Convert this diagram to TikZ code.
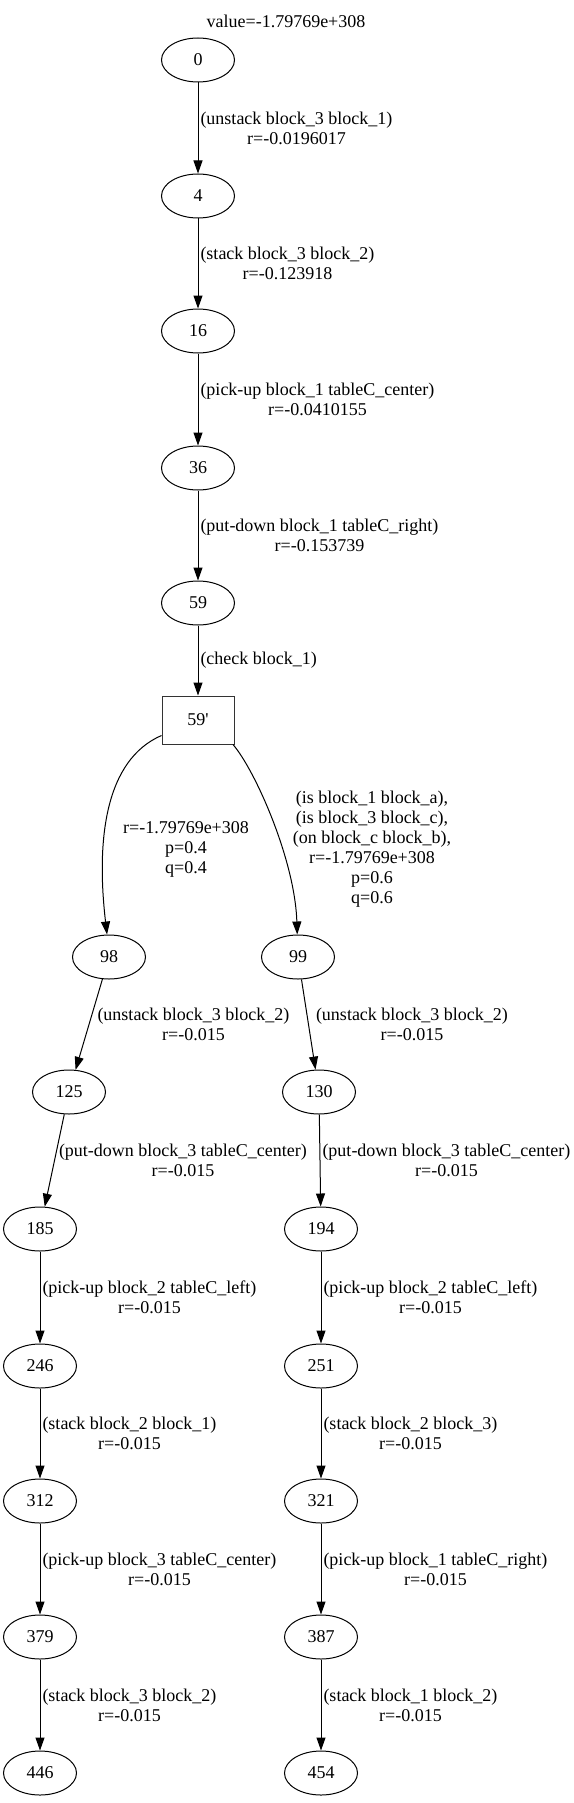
\documentclass[tikz,border=0pt]{standalone}
\usepackage{fontspec}
\setmainfont{Liberation Serif}
\usepackage{tikz}
\usetikzlibrary{arrows.meta, positioning, shapes.geometric}

\tikzset{
    every node/.style={font=\fontsize{18}{20}\selectfont},
    state/.style={draw, ellipse, line width=1pt, minimum width=73pt, minimum height=44pt, inner sep=0pt},
    chance/.style={draw=black!80, rectangle, line width=1pt, minimum width=72pt, minimum height=48pt, inner sep=0pt},
    edge/.style={line width=1pt, -{Triangle[length=13pt, width=9pt]}},
    lbl/.style={anchor=west, align=center, inner sep=0pt, xshift=2pt},
}

\begin{document}
\begin{tikzpicture}[x=1pt, y=1pt]
    \useasboundingbox (0,0) rectangle (573,-1803);

    % 标题
    \node (title) at (286,-21) {value=-1.79769e+308};

    % 主干
    \node[state] (n0) at (198,-60) {0};
    \node[state] (n4) at (198,-196) {4};
    \node[state] (n16) at (198,-331) {16};
    \node[state] (n36) at (198,-468) {36};
    \node[state] (n59) at (198,-603) {59};
    \node[chance] (c59p) at (198,-720) {59\textquotesingle};

    % 左支
    \node[state] (n98) at (109,-957) {98};
    \node[state] (n125) at (69,-1092) {125};
    \node[state] (n185) at (40,-1229) {185};
    \node[state] (n246) at (40,-1366) {246};
    \node[state] (n312) at (40,-1501) {312};
    \node[state] (n379) at (40,-1637) {379};
    \node[state] (n446) at (40,-1773) {446};

    % 右支
    \node[state] (n99) at (298,-957) {99};
    \node[state] (n130) at (319,-1092) {130};
    \node[state] (n194) at (321,-1229) {194};
    \node[state] (n251) at (321,-1366) {251};
    \node[state] (n321) at (321,-1501) {321};
    \node[state] (n387) at (321,-1637) {387};
    \node[state] (n454) at (321,-1773) {454};

    % 主干的边
    \draw[edge] (n0) -- node[lbl] (l0) {(unstack block\_3 block\_1)\\r=-0.0196017} (n4);
    \draw[edge] (n4) -- node[lbl] (l4) {(stack block\_3 block\_2)\\r=-0.123918} (n16);
    \draw[edge] (n16) -- node[lbl] (l16) {(pick-up block\_1 tableC\_center)\\r=-0.0410155} (n36);
    \draw[edge] (n36) -- node[lbl] (l36) {(put-down block\_1 tableC\_right)\\r=-0.153739} (n59);
    \draw[edge] (n59) -- node[lbl] (l59) {(check block\_1)} (c59p);

    % 分支
    \draw[edge] (c59p.203) .. controls (105,-760) and (96,-840) .. (n98.95);
    \draw[edge] (c59p.-35) .. controls (255,-770) and (295,-860) .. (n99.92);
    \node[align=center] (p98) at (186,-849) {r=-1.79769e+308\\p=0.4\\q=0.4};
    \node[align=center] (p99) at (372,-849) {(is block\_1 block\_a),\\(is block\_3 block\_c),\\(on block\_c block\_b),\\r=-1.79769e+308\\p=0.6\\q=0.6};

    % 左支的边
    \draw[edge] (n98) -- node[lbl, xshift=6pt] (l98) {(unstack block\_3 block\_2)\\r=-0.015} (n125);
    \draw[edge] (n125) -- node[lbl, xshift=2pt] (l125) {(put-down block\_3 tableC\_center)\\r=-0.015} (n185);
    \draw[edge] (n185) -- node[lbl] (l185) {(pick-up block\_2 tableC\_left)\\r=-0.015} (n246);
    \draw[edge] (n246) -- node[lbl] (l246) {(stack block\_2 block\_1)\\r=-0.015} (n312);
    \draw[edge] (n312) -- node[lbl] (l312) {(pick-up block\_3 tableC\_center)\\r=-0.015} (n379);
    \draw[edge] (n379) -- node[lbl] (l379) {(stack block\_3 block\_2)\\r=-0.015} (n446);

    % 右支的边
    \draw[edge] (n99) -- node[lbl, xshift=5pt] (l99) {(unstack block\_3 block\_2)\\r=-0.015} (n130);
    \draw[edge] (n130) -- node[lbl] (l130) {(put-down block\_3 tableC\_center)\\r=-0.015} (n194);
    \draw[edge] (n194) -- node[lbl] (l194) {(pick-up block\_2 tableC\_left)\\r=-0.015} (n251);
    \draw[edge] (n251) -- node[lbl] (l251) {(stack block\_2 block\_3)\\r=-0.015} (n321);
    \draw[edge] (n321) -- node[lbl] (l321) {(pick-up block\_1 tableC\_right)\\r=-0.015} (n387);
    \draw[edge] (n387) -- node[lbl] (l387) {(stack block\_1 block\_2)\\r=-0.015} (n454);
\end{tikzpicture}
\end{document}
